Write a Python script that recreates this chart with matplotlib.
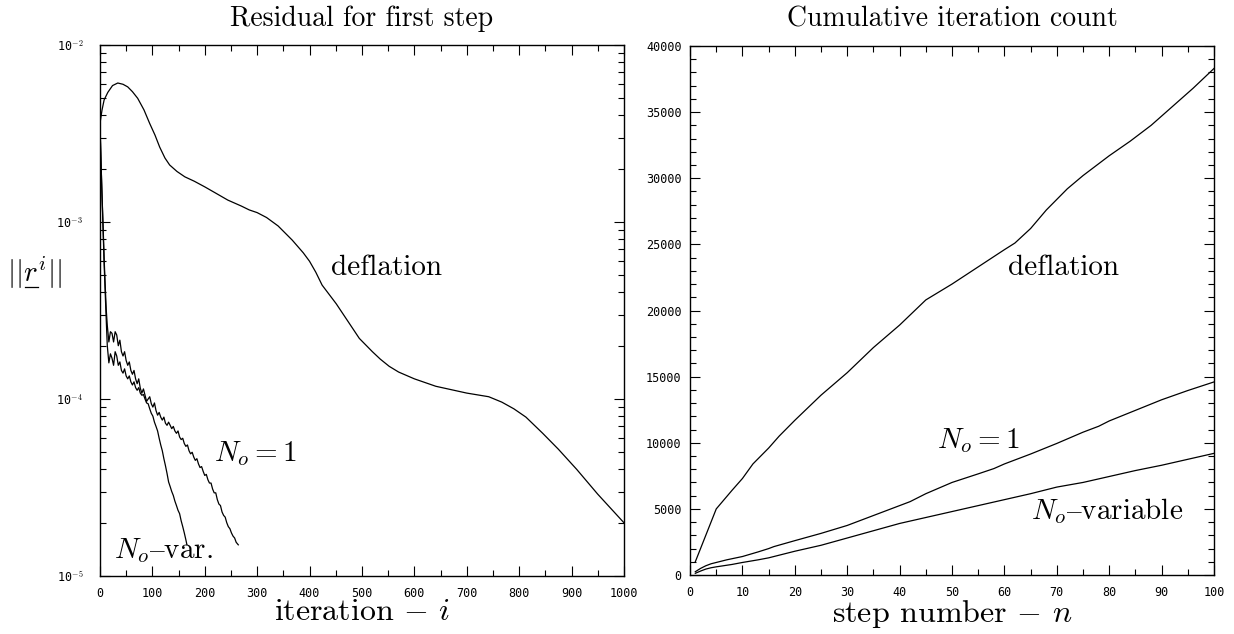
import numpy as np
import matplotlib
matplotlib.use("Agg")
import matplotlib.pyplot as plt
from matplotlib.ticker import FixedLocator, FixedFormatter, LogLocator, MultipleLocator, NullFormatter
from matplotlib.lines import Line2D

plt.rcParams['mathtext.fontset'] = 'cm'
plt.rcParams['font.family'] = ['cmr10', 'DejaVu Serif']
plt.rcParams['axes.unicode_minus'] = False

# ---------------- Left panel data: residual for first step ----------------
defl_i = [0, 4, 8, 15, 24, 34, 44, 53, 62, 72, 84, 95, 105, 114, 124, 133, 147, 162, 180,
          200, 222, 244, 270, 285, 300, 318, 340, 367, 388, 400, 412, 424, 451, 475, 495,
          520, 535, 552, 570, 600, 641, 700, 742, 767, 790, 813, 845, 875, 910, 950, 1000]
defl_r = [3.6e-3, 4.3e-3, 4.9e-3, 5.4e-3, 5.9e-3, 6.1e-3, 6.0e-3, 5.8e-3, 5.45e-3, 5.0e-3,
          4.3e-3, 3.6e-3, 3.1e-3, 2.65e-3, 2.3e-3, 2.1e-3, 1.93e-3, 1.8e-3, 1.7e-3,
          1.58e-3, 1.45e-3, 1.33e-3, 1.23e-3, 1.17e-3, 1.13e-3, 1.06e-3, 9.5e-4, 7.9e-4,
          6.7e-4, 6.0e-4, 5.2e-4, 4.4e-4, 3.45e-4, 2.7e-4, 2.2e-4, 1.85e-4, 1.68e-4, 1.53e-4,
          1.42e-4, 1.3e-4, 1.18e-4, 1.08e-4, 1.03e-4, 9.6e-5, 8.8e-5, 7.9e-5, 6.4e-5, 5.2e-5,
          4.0e-5, 2.9e-5, 2.0e-5]

n1_i = [0, 2, 4, 6, 8, 10, 12, 14, 17, 20, 23, 26, 29, 32, 35, 38, 41, 44, 47, 50, 53, 56,
        59, 62, 65, 68, 71, 74, 77, 80, 83, 86, 89, 92, 95, 98, 101, 104, 107, 110, 113,
        116, 119, 122, 125, 128, 131, 134, 137, 140, 143, 146, 149, 152, 155, 158, 161,
        164, 167, 170, 173, 176, 179, 182, 185, 188, 191, 194, 197, 200, 203, 206, 209,
        212, 215, 218, 221, 224, 227, 230, 233, 236, 239, 242, 245, 248, 251, 254, 257,
        260, 264]
n1_r = [3.6e-3, 2.2e-3, 1.4e-3, 9.5e-4, 6.2e-4, 4.4e-4, 3.2e-4, 2.6e-4, 2.1e-4, 2.4e-4,
        2.35e-4, 2.1e-4, 2.4e-4, 2.3e-4, 2.0e-4, 2.15e-4, 1.85e-4, 1.75e-4, 1.85e-4,
        1.65e-4, 1.55e-4, 1.62e-4, 1.45e-4, 1.38e-4, 1.45e-4, 1.3e-4, 1.22e-4, 1.3e-4,
        1.15e-4, 1.08e-4, 1.14e-4, 1.05e-4, 9.7e-5, 1.0e-4, 1.03e-4, 9.4e-5, 9.0e-5, 9.5e-5,
        8.6e-5, 8.1e-5, 8.4e-5, 7.9e-5, 7.6e-5, 7.9e-5, 7.3e-5, 7.1e-5, 7.4e-5, 7.1e-5,
        6.8e-5, 7.0e-5, 6.6e-5, 6.4e-5, 6.6e-5, 6.1e-5, 5.9e-5, 6.0e-5, 5.6e-5, 5.4e-5,
        5.5e-5, 5.1e-5, 4.9e-5, 5.0e-5, 4.7e-5, 4.5e-5, 4.6e-5, 4.3e-5, 4.1e-5, 4.15e-5,
        3.9e-5, 3.7e-5, 3.75e-5, 3.5e-5, 3.35e-5, 3.35e-5, 3.1e-5, 2.95e-5, 2.95e-5, 2.7e-5,
        2.55e-5, 2.5e-5, 2.3e-5, 2.2e-5, 2.15e-5, 2.0e-5, 1.9e-5, 1.85e-5, 1.75e-5, 1.68e-5,
        1.64e-5, 1.55e-5, 1.5e-5]

nv_i = [0, 2, 4, 6, 8, 10, 12, 14, 17, 20, 23, 26, 29, 32, 35, 38, 41, 44, 47, 50, 53, 56,
        59, 62, 65, 68, 71, 74, 77, 80, 83, 86, 89, 92, 95, 98, 101, 104, 107, 110, 113,
        116, 119, 122, 125, 128, 131, 134, 137, 140, 143, 146, 149, 152, 155, 158, 161,
        164, 166]
nv_r = [3.6e-3, 2.2e-3, 1.4e-3, 9.0e-4, 5.8e-4, 4.0e-4, 2.8e-4, 2.0e-4, 1.6e-4, 1.8e-4,
        1.7e-4, 1.55e-4, 1.85e-4, 1.75e-4, 1.55e-4, 1.62e-4, 1.45e-4, 1.4e-4, 1.48e-4,
        1.35e-4, 1.3e-4, 1.35e-4, 1.25e-4, 1.2e-4, 1.25e-4, 1.16e-4, 1.12e-4, 1.16e-4,
        1.08e-4, 1.05e-4, 1.06e-4, 1.0e-4, 9.5e-5, 9.4e-5, 8.8e-5, 8.3e-5, 8.0e-5, 7.4e-5,
        7.0e-5, 6.6e-5, 6.0e-5, 5.5e-5, 5.1e-5, 4.6e-5, 4.2e-5, 3.8e-5, 3.4e-5, 3.2e-5,
        3.0e-5, 2.85e-5, 2.65e-5, 2.5e-5, 2.35e-5, 2.25e-5, 2.05e-5, 1.9e-5, 1.75e-5,
        1.6e-5, 1.5e-5]

left_yticks = [1e-5, 1e-4, 1e-3, 1e-2]
left_yticklabels = ["10$^{-5}$", "10$^{-4}$", "10$^{-3}$", "10$^{-2}$"]
left_xticks = [0, 100, 200, 300, 400, 500, 600, 700, 800, 900, 1000]

# ---------------- Right panel data: cumulative iteration count ----------------
defc_n = [1, 5, 8, 10, 12, 15, 17, 20, 25, 30, 35, 40, 45, 50, 55, 60, 62, 65, 68, 70, 72,
          75, 78, 80, 84, 88, 92, 96, 100]
defc_v = [1000, 5000, 6400, 7300, 8400, 9600, 10500, 11700, 13600, 15300, 17200, 18900,
          20800, 22000, 23300, 24600, 25100, 26200, 27600, 28400, 29200, 30200, 31100,
          31700, 32800, 34000, 35400, 36800, 38300]

n1c_n = [1, 2, 3, 4, 5, 7, 10, 13, 15, 16, 20, 25, 30, 35, 40, 42, 45, 50, 55, 58, 60, 65,
         70, 75, 78, 80, 85, 90, 95, 100]
n1c_v = [250, 500, 700, 850, 950, 1150, 1400, 1750, 2000, 2150, 2600, 3150, 3750, 4500,
         5250, 5550, 6150, 7000, 7650, 8050, 8400, 9150, 9950, 10800, 11250, 11650, 12450,
         13250, 13950, 14600]

nvc_n = [1, 2, 3, 4, 5, 8, 10, 13, 15, 20, 25, 30, 35, 40, 45, 50, 55, 60, 65, 70, 75, 80,
         85, 90, 95, 100]
nvc_v = [130, 300, 450, 550, 620, 800, 950, 1150, 1300, 1800, 2250, 2800, 3350, 3900,
         4350, 4800, 5250, 5700, 6150, 6650, 7000, 7450, 7900, 8300, 8750, 9200]

right_xticks = [0, 10, 20, 30, 40, 50, 60, 70, 80, 90, 100]
right_yticks = [0, 5000, 10000, 15000, 20000, 25000, 30000, 35000, 40000]

# ---------------- Figure ----------------
fig = plt.figure(figsize=(12.34, 6.34), dpi=100)
axL = fig.add_axes([0.081, 0.0915, 0.4246, 0.8375])
axR = fig.add_axes([0.5592, 0.093, 0.4246, 0.8345])

lw = 0.9

# Left panel
axL.plot(defl_i, defl_r, color='black', lw=lw)
axL.plot(n1_i, n1_r, color='black', lw=lw)
axL.plot(nv_i, nv_r, color='black', lw=lw)
axL.set_yscale('log')
axL.set_xlim(0, 1000)
axL.set_ylim(1e-5, 1e-2)
axL.yaxis.set_major_locator(FixedLocator(left_yticks))
axL.yaxis.set_major_formatter(FixedFormatter(left_yticklabels))
axL.yaxis.set_minor_locator(LogLocator(base=10, subs=np.arange(2, 10)))
axL.yaxis.set_minor_formatter(NullFormatter())
axL.xaxis.set_major_locator(FixedLocator(left_xticks))
axL.xaxis.set_minor_locator(MultipleLocator(50))
axL.set_title("Residual for first step", fontsize=20, pad=14)
axL.set_xlabel(r"iteration $-$ $i$", fontsize=23, labelpad=-1)
axL.text(546, 5.5e-4, "deflation", fontsize=21, ha='center', va='center')
axL.text(297, 4.9e-5, r"$N_o = 1$", fontsize=21, ha='center', va='center')
axL.text(122, 1.4e-5, r"$N_o\mathrm{–var.}$", fontsize=21, ha='center', va='center')

# Right panel
axR.plot(defc_n, defc_v, color='black', lw=lw)
axR.plot(n1c_n, n1c_v, color='black', lw=lw)
axR.plot(nvc_n, nvc_v, color='black', lw=lw)
axR.set_xlim(0, 100)
axR.set_ylim(0, 40000)
axR.xaxis.set_major_locator(FixedLocator(right_xticks))
axR.xaxis.set_minor_locator(MultipleLocator(5))
axR.yaxis.set_major_locator(FixedLocator(right_yticks))
axR.yaxis.set_minor_locator(MultipleLocator(1000))
axR.set_title("Cumulative iteration count", fontsize=20, pad=14)
axR.set_xlabel(r"step number $-$ $n$", fontsize=23, labelpad=-1)
axR.text(71.2, 23200, "deflation", fontsize=21, ha='center', va='center')
axR.text(55, 10200, r"$N_o = 1$", fontsize=21, ha='center', va='center')
axR.text(79.6, 4840, r"$N_o\mathrm{–variable}$", fontsize=21, ha='center', va='center')

for ax in (axL, axR):
    ax.tick_params(which='both', direction='in', top=True, right=True, width=0.8)
    ax.tick_params(which='major', length=7)
    ax.tick_params(which='minor', length=4)
    for lab in ax.get_xticklabels() + ax.get_yticklabels():
        lab.set_fontfamily('DejaVu Sans Mono')
        lab.set_fontsize(8.5)
    for s in ax.spines.values():
        s.set_linewidth(1.0)
axL.tick_params(axis='y', which='major', pad=12)
axL.tick_params(axis='x', which='major', pad=8)
axR.tick_params(axis='y', which='major', pad=6)
axR.tick_params(axis='x', which='major', pad=8)

# y label for left panel
fig.text(0.028, 0.57, r"$||r^i||$", fontsize=21, ha='center', va='center')
fig.add_artist(Line2D([0.0205, 0.0305], [0.548, 0.548], color='black', lw=0.9))

fig.savefig("out.png", dpi=100)
